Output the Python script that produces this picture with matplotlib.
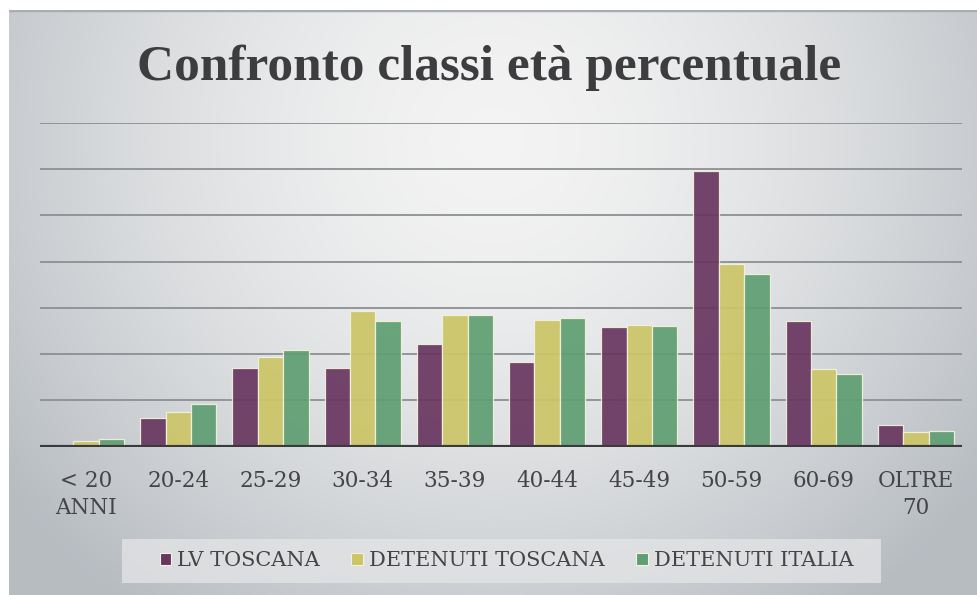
import matplotlib

matplotlib.use("Agg")

import matplotlib.pyplot as plt
import numpy as np
from matplotlib.patches import Patch, Rectangle

# data (percent per age class)
categories = ["< 20\nANNI", "20-24", "25-29", "30-34", "35-39",
              "40-44", "45-49", "50-59", "60-69", "OLTRE\n70"]
lv_toscana = [0.0, 3.1, 8.5, 8.5, 11.1, 9.2, 12.9, 29.8, 13.6, 2.3]
detenuti_toscana = [0.65, 3.8, 9.7, 14.7, 14.2, 13.7, 13.1, 19.7, 8.4, 1.6]
detenuti_italia = [0.85, 4.6, 10.4, 13.6, 14.2, 13.9, 13.0, 18.7, 7.8, 1.7]
series_names = ["LV TOSCANA", "DETENUTI TOSCANA", "DETENUTI ITALIA"]
colors = ["#693660", "#cbc566", "#5e9e72"]

W, H = 978, 595
fig = plt.figure(figsize=(W / 100, H / 100), dpi=100, facecolor="white")

# gradient background of the chart area
bg = fig.add_axes([9 / W, 0, (W - 9) / W, (H - 10) / H], zorder=-10)
yy, xx = np.mgrid[0:1:300j, 0:1:500j]
r = np.sqrt(((xx - 0.5) / 0.62) ** 2 + ((yy - 0.22) / 1.0) ** 2)
t = np.clip(r, 0, 1) ** 1.6
light = np.array([0.955, 0.955, 0.955])
dark = np.array([0.72, 0.74, 0.76])
img = light[None, None, :] * (1 - t[..., None]) + dark[None, None, :] * t[..., None]
bg.imshow(img, aspect="auto", extent=(0, 1, 0, 1), origin="upper")
bg.axhline(1.0, color="#a9adb1", lw=2.5)
bg.set_xlim(0, 1)
bg.set_ylim(0, 1)
bg.axis("off")

ax = fig.add_axes([40 / W, (H - 446.7) / H, 922 / W, (446.7 - 122.7) / H])
ax.set_facecolor("none")

x = np.arange(len(categories))
width = 0.275
for i, (vals, name, col) in enumerate(zip([lv_toscana, detenuti_toscana, detenuti_italia], series_names, colors)):
    ax.bar(x + (i - 1) * width, vals, width, color=col, alpha=0.92,
           edgecolor="#f4f2dc", linewidth=0.9, zorder=3, label=name)

ax.set_xlim(-0.5, len(categories) - 0.5)
ax.set_ylim(0, 35)
ax.set_yticks(np.arange(5, 36, 5))
ax.yaxis.grid(True, color="#8c8f93", linewidth=1.3, zorder=1)
ax.set_axisbelow(True)
ax.tick_params(axis="y", length=0, labelleft=False)
ax.axhline(0, color="#3a3a3c", lw=3, zorder=4)
for s in ax.spines.values():
    s.set_visible(False)

ax.set_xticks(x)
ax.set_xticklabels(categories, fontsize=15.5, family="DejaVu Serif",
                   color="#454548", linespacing=1.3, va="top")
ax.tick_params(axis="x", length=0, pad=17)

fig.text(0.5, (H - 80) / H, "Confronto classi età percentuale",
         ha="center", va="baseline", fontsize=37, fontweight="bold",
         family="Liberation Serif", color="#3d3d40")

# legend box
fig.patches.append(Rectangle((122 / W, (H - 583) / H), (881 - 122) / W, 44 / H,
                             transform=fig.transFigure, facecolor="#e4e5e7",
                             alpha=0.75, edgecolor="none", zorder=1))
handles = [Patch(facecolor=c, edgecolor="#f4f2dc", linewidth=0.8) for c in colors]
leg = fig.legend(handles, series_names, loc="center",
                 bbox_to_anchor=((163 + 850) / 2 / W, (H - 561) / H),
                 ncol=3, frameon=False,
                 prop={"family": "DejaVu Serif", "size": 15},
                 handlelength=0.55, handleheight=0.55, handletextpad=0.3,
                 columnspacing=1.5, borderpad=0, borderaxespad=0)
for txt in leg.get_texts():
    txt.set_color("#454548")

fig.savefig("out.png", dpi=100)
